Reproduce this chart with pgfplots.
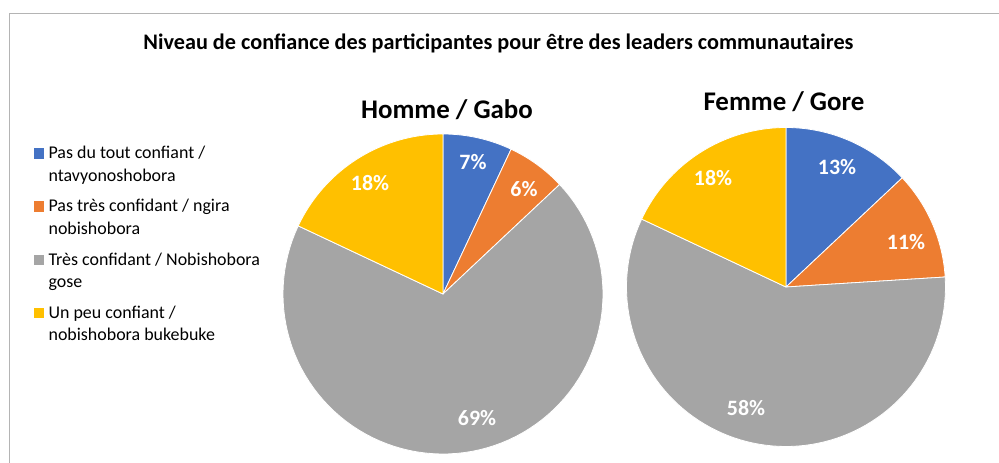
\documentclass[border=0pt]{standalone}
\usepackage{pgfplots}
\usepackage{pgfplotstable}
\pgfplotsset{compat=1.18}
\usepackage{fontspec}
\setmainfont{Carlito}
\definecolor{c1}{HTML}{4472C4}
\definecolor{c2}{HTML}{ED7D31}
\definecolor{c3}{HTML}{A5A5A5}
\definecolor{c4}{HTML}{FFC000}
\definecolor{frame}{HTML}{B4B4B4}

% Homme / Gabo
\pgfplotstableread{
pct col
7  c1
6  c2
69 c3
18 c4
}\homme
% Femme / Gore
\pgfplotstableread{
pct col
13 c1
11 c2
58 c3
18 c4
}\femme

% #1 table, #2 cx, #3 cy, #4 radius
\newcommand{\pie}[4]{%
  \def\cum{0}%
  \pgfplotsforeachungrouped \i in {0,...,3}{%
    \pgfplotstablegetelem{\i}{pct}\of#1\let\p=\pgfplotsretval
    \pgfplotstablegetelem{\i}{col}\of#1\let\c=\pgfplotsretval
    \pgfmathsetmacro\a{90-3.6*\cum}%
    \pgfmathsetmacro\b{90-3.6*(\cum+\p)}%
    \edef\temp{\noexpand\addplot[forget plot, fill=\c, draw=white, line width=0.8bp, domain=\b:\a, samples=90]
      ({#2+#4*cos(x)},{#3+#4*sin(x)}) -- (axis cs:#2,#3) -- cycle;}%
    \temp
    \pgfmathsetmacro\cum{\cum+\p}%
  }%
}

\begin{document}
\begin{tikzpicture}
\begin{axis}[
  width=999bp, height=463bp, scale only axis,
  xmin=0, xmax=999, ymin=0, ymax=463,
  hide axis, clip=false,
  legend image code/.code={\fill[#1] (0bp,5bp) rectangle (9.5bp,14.5bp);},
  legend cell align=left,
  legend style={
    at={(axis cs:33.5,320)}, anchor=north west,
    draw=none, fill=none, inner sep=0pt, row sep=13.5bp,
    font=\fontsize{18}{22.5}\selectfont,
    nodes={inner xsep=5bp, inner ysep=0pt, align=left},
  },
]
% frame (top and left edges)
\addplot[forget plot, frame, line width=1.2bp] coordinates {(9.5,0) (9.5,449.5) (999,449.5)};

\pie{\homme}{443}{169}{160}
\pie{\femme}{786}{176}{159.5}

\addlegendimage{c1}
\addlegendentry{\strut Pas du tout confiant /\\\strut ntavyonoshobora}
\addlegendimage{c2}
\addlegendentry{\strut Pas très confidant / ngira\\\strut nobishobora}
\addlegendimage{c3}
\addlegendentry{\strut Très confidant / Nobishobora\\\strut gose}
\addlegendimage{c4}
\addlegendentry{\strut Un peu confiant /\\\strut nobishobora bukebuke}

% titles
\node[anchor=base, font=\bfseries\fontsize{22.3}{26}\selectfont] at (axis cs:498.5,413.7)
  {Niveau de confiance des participantes pour être des leaders communautaires};
\node[anchor=base, font=\bfseries\fontsize{27}{32}\selectfont] at (axis cs:447,344) {Homme / Gabo};
\node[anchor=base, font=\bfseries\fontsize{27}{32}\selectfont] at (axis cs:784,352) {Femme / Gore};

% data labels
\begin{scope}[every node/.style={text=white, font=\bfseries\fontsize{22}{26}\selectfont, inner sep=0pt}]
\node at (axis cs:473,301) {7\%};
\node at (axis cs:524,274) {6\%};
\node at (axis cs:477,45) {69\%};
\node at (axis cs:370,280) {18\%};
\node at (axis cs:837,296) {13\%};
\node at (axis cs:906,221) {11\%};
\node at (axis cs:746,55) {58\%};
\node at (axis cs:713,285) {18\%};
\end{scope}
\end{axis}
\pgfresetboundingbox
\path[use as bounding box] (0,0) rectangle (999bp,463bp);
\end{tikzpicture}
\end{document}
